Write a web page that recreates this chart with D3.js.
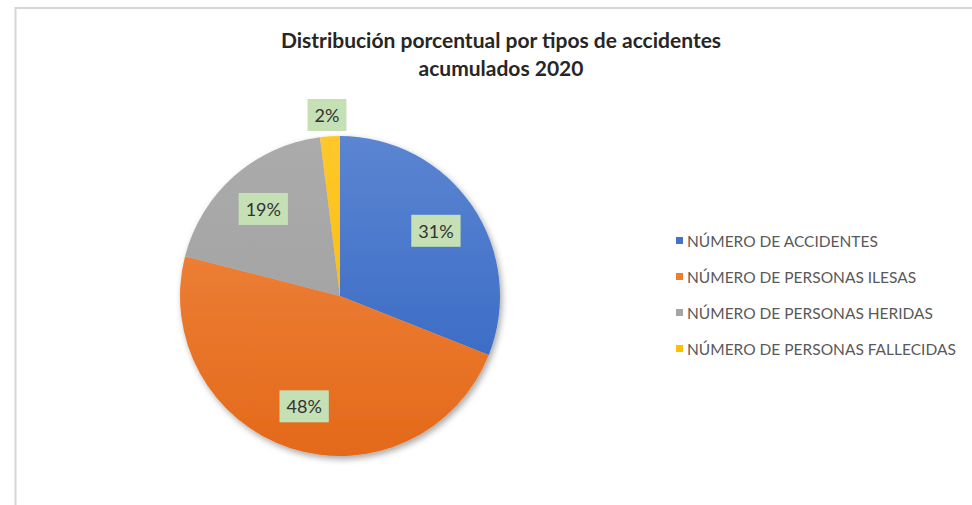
<!DOCTYPE html>
<html>
<head>
<meta charset="utf-8">
<script src="https://cdn.jsdelivr.net/npm/d3@7"></script>
<style>
html,body{margin:0;padding:0;background:#fff;}
svg{display:block;}
</style>
</head>
<body>
<script>
const titleLines = ["Distribución porcentual por tipos de accidentes", "acumulados 2020"];
const categories = ["NÚMERO DE ACCIDENTES", "NÚMERO DE PERSONAS ILESAS", "NÚMERO DE PERSONAS HERIDAS", "NÚMERO DE PERSONAS FALLECIDAS"];
const values = [31, 48, 19, 2];
const labels = ["31%", "48%", "19%", "2%"];
const colors = ["#4472C4", "#ED7D31", "#A5A5A5", "#FFC000"];
const topColors = ["#5B85D2", "#F08A45", "#ABABAB", "#FFC72A"];
const bottomColors = ["#2F62C0", "#E4691A", "#9E9E9E", "#F5B800"];

const W = 972, H = 505;
const cx = 340, cy = 296, R = 160;

const svg = d3.select("body").append("svg").attr("width", W).attr("height", H);
const defs = svg.append("defs");

svg.append("path")
  .attr("d", `M15.5,${H} L15.5,8 L${W},8`)
  .attr("fill", "none").attr("stroke", "#d6d6d6").attr("stroke-width", 2);

svg.append("g").selectAll("text").data(titleLines).join("text")
  .attr("x", 501).attr("y", (d, i) => 48 + i * 28)
  .attr("text-anchor", "middle")
  .attr("font-family", "Lato, 'Open Sans', sans-serif")
  .attr("font-weight", "bold").attr("font-size", 21)
  .attr("fill", "#262626")
  .text(d => d);

colors.forEach((c, i) => {
  const g = defs.append("linearGradient").attr("id", "g" + i)
    .attr("gradientUnits", "userSpaceOnUse")
    .attr("x1", 0).attr("y1", -R).attr("x2", 0).attr("y2", R);
  g.append("stop").attr("offset", "0%").attr("stop-color", topColors[i]);
  g.append("stop").attr("offset", "100%").attr("stop-color", bottomColors[i]);
});

const f = defs.append("filter").attr("id", "sh").attr("x", "-20%").attr("y", "-20%").attr("width", "140%").attr("height", "140%");
f.append("feDropShadow").attr("dx", 2).attr("dy", 3).attr("stdDeviation", 3).attr("flood-color", "#000").attr("flood-opacity", 0.35);

const pie = d3.pie().sort(null).value(d => d);
const arcs = pie(values);
const arc = d3.arc().innerRadius(0).outerRadius(R);

const pg = svg.append("g").attr("transform", `translate(${cx},${cy})`);
pg.append("g").attr("filter", "url(#sh)")
  .selectAll("path").data(arcs).join("path")
  .attr("d", arc)
  .attr("fill", (d, i) => `url(#g${i})`);

const labelArc = d3.arc().innerRadius(116).outerRadius(116);
const outArc = d3.arc().innerRadius(180).outerRadius(180);
const lg = pg.append("g");
arcs.forEach((d, i) => {
  let [x, y] = (values[i] < 5) ? outArc.centroid(d) : labelArc.centroid(d);
  if (values[i] < 5) { x = -13; y = -181; }
  const t = lg.append("text")
    .attr("x", x).attr("y", y)
    .attr("text-anchor", "middle").attr("dominant-baseline", "central")
    .attr("font-family", "Lato, 'Open Sans', sans-serif")
    .attr("font-size", 18).attr("fill", "#333")
    .text(labels[i]);
  const bb = t.node().getBBox();
  lg.insert("rect", "text")
    .attr("x", bb.x - 7).attr("y", y - 16)
    .attr("width", bb.width + 14).attr("height", 32)
    .attr("fill", "#C5E0B4");
});

const leg = svg.append("g").attr("transform", "translate(676,0)");
const ly = [241, 277, 313, 349];
categories.forEach((c, i) => {
  leg.append("rect").attr("x", 0).attr("y", ly[i] - 4).attr("width", 7).attr("height", 7).attr("fill", colors[i]);
  leg.append("text").attr("x", 11).attr("y", ly[i])
    .attr("dominant-baseline", "central")
    .attr("font-family", "Lato, 'Open Sans', sans-serif")
    .attr("font-size", 15.5).attr("fill", "#595959")
    .text(c);
});
</script>
</body>
</html>
